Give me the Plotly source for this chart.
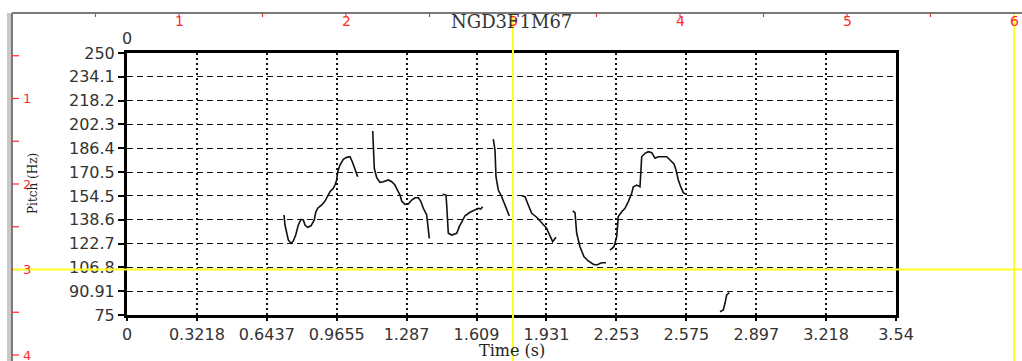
import plotly.graph_objects as go

# ---------------- data ----------------
x_ticks = [0, 0.3218, 0.6437, 0.9655, 1.287, 1.609, 1.931, 2.253, 2.575, 2.897, 3.218, 3.54]
x_labels = ["0", "0.3218", "0.6437", "0.9655", "1.287", "1.609", "1.931", "2.253",
            "2.575", "2.897", "3.218", "3.54"]
y_ticks = [75, 90.91, 106.8, 122.7, 138.6, 154.5, 170.5, 186.4, 202.3, 218.2, 234.1, 250]
y_labels = ["75", "90.91", "106.8", "122.7", "138.6", "154.5", "170.5", "186.4",
            "202.3", "218.2", "234.1", "250"]

seg1_t = [0.7227, 0.7273, 0.7425, 0.7550, 0.7655, 0.7766, 0.7886, 0.8010, 0.8116, 0.8194,
          0.8318, 0.8470, 0.8622, 0.8687, 0.8779, 0.8963, 0.9115, 0.9239, 0.9345, 0.9497,
          0.9575, 0.9653, 0.9699, 0.9805, 0.9957, 1.0114, 1.0265, 1.0371, 1.0496, 1.0620]
seg1_hz = [141.8, 135.1, 125.1, 122.9, 124.4, 128.4, 135.1, 138.9, 138.5, 135.1,
           133.6, 134.6, 138.5, 143.6, 146.3, 148.5, 151.1, 154.0, 157.4, 159.6,
           161.8, 165.2, 170.7, 175.2, 179.0, 180.3, 180.7, 177.4, 171.8, 167.4]

seg2_t = [1.1311, 1.1338, 1.1384, 1.1495, 1.1647, 1.1799, 1.2029, 1.2185, 1.2337, 1.2443,
          1.2567, 1.2646, 1.2797, 1.2949, 1.3106, 1.3258, 1.3410, 1.3520, 1.3640, 1.3796,
          1.3870, 1.3916]
seg2_hz = [197.9, 186.3, 173.0, 166.7, 163.6, 164.0, 165.2, 164.0, 161.8, 158.5,
           155.1, 151.1, 148.9, 149.1, 151.8, 153.3, 153.3, 151.1, 146.3, 141.8,
           134.0, 126.2]

seg3_t = [1.4533, 1.4685, 1.4717, 1.4745, 1.4791, 1.4947, 1.5177, 1.5297, 1.5408, 1.5560,
          1.5790, 1.6020, 1.6172, 1.6282, 1.6374]
seg3_hz = [155.6, 155.1, 148.5, 137.3, 129.6, 128.4, 129.6, 134.0, 137.3, 141.3,
           143.6, 145.1, 146.3, 145.8, 147.3]

seg4_t = [1.6862, 1.6940, 1.6986, 1.7092, 1.7249, 1.7401, 1.7599]
seg4_hz = [192.4, 185.2, 167.4, 158.5, 154.0, 148.5, 141.1]

seg5_t = [1.8170, 1.8322, 1.8473, 1.8630, 1.8860, 1.9090, 1.9320, 1.9472, 1.9597, 1.9749]
seg5_hz = [154.7, 154.0, 148.5, 142.9, 140.3, 136.2, 132.9, 127.8, 124.0, 126.9]

seg6_t = [2.0517, 2.0623, 2.0701, 2.0853, 2.1037, 2.1235, 2.1465, 2.1622, 2.1852, 2.2050]
seg6_hz = [144.5, 143.3, 129.6, 120.6, 113.9, 111.1, 108.9, 108.4, 109.9, 109.9]

seg7_t = [2.2234, 2.2418, 2.2543, 2.2616, 2.2773, 2.2925, 2.3077, 2.3233, 2.3307, 2.3464,
          2.3615, 2.3647, 2.3693, 2.3845, 2.3997, 2.4154, 2.4306, 2.4458, 2.4688, 2.4845,
          2.4997, 2.5181, 2.5273, 2.5379, 2.5489, 2.5609, 2.5733]
seg7_hz = [118.4, 120.6, 127.3, 140.7, 144.0, 146.3, 150.7, 156.3, 160.7, 161.8,
           160.7, 169.6, 180.7, 183.0, 184.1, 183.4, 179.7, 180.7, 180.7, 180.7,
           178.5, 175.9, 171.8, 165.2, 160.7, 156.7, 155.6]

seg8_t = [2.7298, 2.7450, 2.7528, 2.7606, 2.7726]
seg8_hz = [77.2, 78.3, 82.8, 88.4, 89.9]

segments_t = [seg1_t, seg2_t, seg3_t, seg4_t, seg5_t, seg6_t, seg7_t, seg8_t]
segments_hz = [seg1_hz, seg2_hz, seg3_hz, seg4_hz, seg5_hz, seg6_hz, seg7_hz, seg8_hz]

title_text = "NGD3F1M67"
top_ruler_labels = ["1", "2", "3", "4", "5", "6"]
left_ruler_labels = ["1", "2", "3", "4"]

# ---------------- layout geometry (pixels) ----------------
W, H = 1022, 361
L, R, T, B = 127, 896, 53, 315


def px(xp):
    return (xp - L) / (R - L)


def py(yp):
    return (B - yp) / (B - T)


xs, ys = [], []
for tt, hh in zip(segments_t, segments_hz):
    xs += tt + [None]
    ys += hh + [None]

fig = go.Figure()
fig.add_trace(go.Scatter(x=xs, y=ys, mode="lines",
                         line=dict(color="#111111", width=1.6),
                         connectgaps=False, showlegend=False, hoverinfo="skip"))

tick_font = dict(family="DejaVu Sans", size=16, color="#333333")
serif = "DejaVu Serif"

shapes = []
annotations = []

# ruler lines
shapes.append(dict(type="line", xref="paper", yref="paper",
                   x0=px(9), x1=px(9), y0=py(13), y1=py(H + 2),
                   line=dict(color="#c8c8c8", width=4)))
shapes.append(dict(type="line", xref="paper", yref="paper",
                   x0=px(12), x1=px(W + 2), y0=py(13), y1=py(13),
                   line=dict(color="#7a7a7a", width=2)))
shapes.append(dict(type="line", xref="paper", yref="paper",
                   x0=px(12), x1=px(12), y0=py(13), y1=py(H + 2),
                   line=dict(color="#7a7a7a", width=2)))

red = "#ff2a2a"
# top ruler
top_org, top_unit = 12, 167
for k in range(1, 13):
    xx = top_org + top_unit * k / 2
    shapes.append(dict(type="line", xref="paper", yref="paper",
                       x0=px(xx), x1=px(xx), y0=py(14), y1=py(17),
                       line=dict(color=red, width=1.2)))
for i, lab in enumerate(top_ruler_labels):
    xx = top_org + top_unit * (i + 1)
    annotations.append(dict(xref="paper", yref="paper", x=px(xx), y=py(21),
                            text=lab, showarrow=False, xanchor="center", yanchor="middle",
                            font=dict(family="DejaVu Sans", size=14, color=red)))
# left ruler
left_org, left_unit = 13, 85.5
for k in range(1, 9):
    yy = left_org + left_unit * k / 2
    shapes.append(dict(type="line", xref="paper", yref="paper",
                       x0=px(12), x1=px(19), y0=py(yy), y1=py(yy),
                       line=dict(color=red, width=1.2)))
for i, lab in enumerate(left_ruler_labels):
    yy = left_org + left_unit * (i + 1)
    annotations.append(dict(xref="paper", yref="paper", x=px(27), y=py(yy),
                            text=lab, showarrow=False, xanchor="center", yanchor="middle",
                            font=dict(family="DejaVu Sans", size=13, color=red)))

# yellow cursor lines
yellow = "#ffff22"
shapes.append(dict(type="line", xref="paper", yref="paper", layer="above",
                   x0=px(513), x1=px(513), y0=py(14), y1=py(H + 2),
                   line=dict(color=yellow, width=2)))
shapes.append(dict(type="line", xref="paper", yref="paper", layer="above",
                   x0=px(1014), x1=px(1014), y0=py(14), y1=py(H + 2),
                   line=dict(color=yellow, width=2)))
shapes.append(dict(type="line", xref="paper", yref="paper", layer="above",
                   x0=px(13), x1=px(W + 2), y0=py(269.5), y1=py(269.5),
                   line=dict(color=yellow, width=2)))

# title and extra texts
annotations.append(dict(xref="paper", yref="paper", x=px(511), y=py(22),
                        text=title_text, showarrow=False, xanchor="center", yanchor="middle",
                        font=dict(family=serif, size=18, color="#333333")))
annotations.append(dict(xref="paper", yref="paper", x=px(127), y=py(38),
                        text="0", showarrow=False, xanchor="center", yanchor="middle",
                        font=tick_font))
annotations.append(dict(xref="paper", yref="paper", x=px(512), y=py(350),
                        text="Time (s)", showarrow=False, xanchor="center", yanchor="middle",
                        font=dict(family=serif, size=16, color="#222222")))
annotations.append(dict(xref="paper", yref="paper", x=px(33), y=py(184),
                        text="Pitch (Hz)", showarrow=False, xanchor="center", yanchor="middle",
                        textangle=-90,
                        font=dict(family=serif, size=12, color="#222222")))

fig.update_layout(
    width=W, height=H, autosize=False,
    margin=dict(l=L, r=W - R, t=T, b=H - B, pad=0),
    paper_bgcolor="white", plot_bgcolor="white",
    showlegend=False,
    shapes=shapes, annotations=annotations,
    xaxis=dict(range=[0, 3.54], tickmode="array", tickvals=x_ticks, ticktext=x_labels,
               showgrid=True, gridcolor="#111111", gridwidth=2, griddash="2px,3px",
               showline=True, linecolor="black", linewidth=3, mirror=True,
               ticks="outside", ticklen=3, tickwidth=2, tickcolor="black",
               tickfont=tick_font, zeroline=False, fixedrange=True),
    yaxis=dict(range=[75, 250], tickmode="array", tickvals=y_ticks, ticktext=y_labels,
               showgrid=True, gridcolor="#111111", gridwidth=1, griddash="6px,4px",
               showline=True, linecolor="black", linewidth=3, mirror=True,
               ticks="outside", ticklen=6, tickwidth=2, tickcolor="black",
               tickfont=tick_font, zeroline=False, fixedrange=True),
)

fig.write_html("out.html", config={"displayModeBar": False},
               post_script="document.body.style.margin='0';document.body.style.overflow='hidden';")
